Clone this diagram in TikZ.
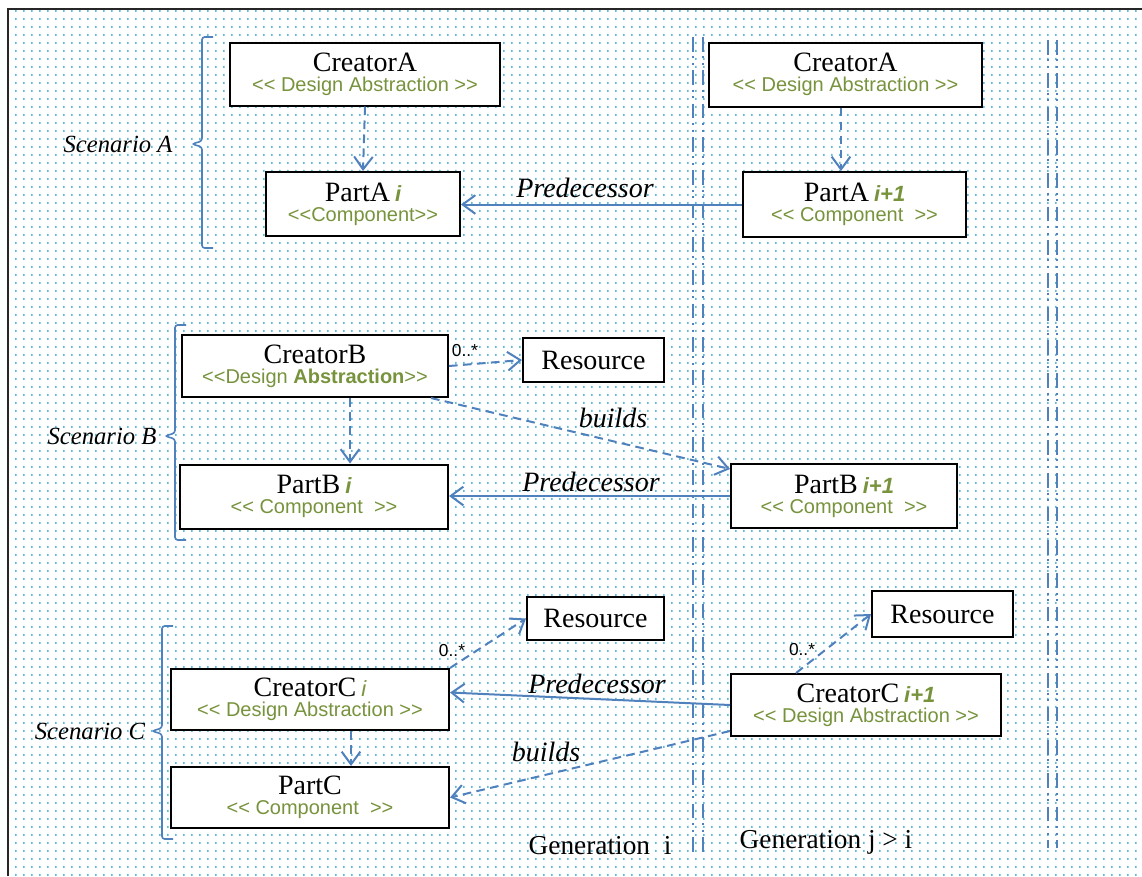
\documentclass[tikz,border=0pt]{standalone}
\usepackage{fontspec}
\setmainfont{Liberation Serif}
\setsansfont{Liberation Sans}
\usetikzlibrary{arrows.meta,patterns,calc}

\definecolor{linkblue}{HTML}{4F81BD}
\definecolor{stgreen}{HTML}{77933C}
\definecolor{dotblue}{HTML}{62BAD6}

% light dot grid used as the page background
\pgfdeclarepatternformonly{griddots}{\pgfqpoint{0pt}{0pt}}{\pgfqpoint{5.625pt}{5.625pt}}{\pgfqpoint{5.625pt}{5.625pt}}{%
  \pgfpathrectangle{\pgfqpoint{0pt}{0pt}}{\pgfqpoint{1.3pt}{1.6pt}}\pgfusepath{fill}}

\newcommand\dlt{<\kern0pt<}
\newcommand\dgt{>\kern0pt>}
\newcommand\ttl[1]{{\rmfamily\fontsize{21}{15}\selectfont #1}}
\newcommand\ster[1]{{\sffamily\fontsize{15}{15}\selectfont\color{stgreen}#1}}
\newcommand\gen[1]{{\sffamily\bfseries\itshape\fontsize{16.5}{15}\selectfont\color{stgreen}#1}}

\tikzset{
  box/.style={draw=black, line width=1.5pt, fill=white, align=center, inner sep=0pt,
              font=\fontsize{15}{15}\selectfont},
  sz/.style 2 args={minimum width=#1*0.75pt, minimum height=#2*0.75pt},
  flow/.style={draw=linkblue, line width=1.5pt, -{Straight Barb[length=9.5pt,width=14pt]}},
  dep/.style={flow, dash pattern=on 6.5pt off 4pt},
  lbl/.style={font=\rmfamily\itshape\fontsize{21}{21}\selectfont, inner sep=0pt},
  scen/.style={font=\rmfamily\itshape\fontsize{18.5}{18.5}\selectfont, inner sep=0pt},
  mult/.style={font=\sffamily\fontsize{13}{13}\selectfont, inner sep=0pt},
  gentext/.style={font=\rmfamily\fontsize{20.5}{20.5}\selectfont, inner sep=0pt},
  brace/.style={draw=linkblue, line width=1.2pt, rounded corners=2pt},
  divider/.style={draw=linkblue, line width=1.1pt,
                  dash pattern=on 11pt off 3.5pt on 1.5pt off 3.5pt on 1.5pt off 4pt},
}

\begin{document}
\begin{tikzpicture}[x=0.75pt,y=-0.75pt]
\useasboundingbox (0,0) rectangle (1142,876);

% background and frame
\fill[white] (0,0) rectangle (1142,876);
\fill[pattern=griddots, pattern color=dotblue] (9,10) rectangle (1142,876);
\draw[line width=1.5pt, black!85] (8,876) -- (8,9) -- (1142,9);

% generation dividers
\draw[divider] (693,37) -- (693,852);
\draw[divider] (703,37) -- (703,852);
\draw[divider] (1048,40) -- (1048,848);
\draw[divider] (1057,40) -- (1057,848);

% scenario braces
\draw[brace] (213,37) -- (202,37) -- (202,141) -- (192,144) -- (202,147) -- (202,248) -- (213,248);
\draw[brace] (186,325) -- (175,325) -- (175,433) -- (165,436) -- (175,439) -- (175,540) -- (186,540);
\draw[brace] (173,626) -- (162,626) -- (162,728) -- (152,731) -- (162,734) -- (162,839) -- (173,839);
\node[scen] (scA) at (118,144) {Scenario A};
\node[scen] (scB) at (102,436) {Scenario B};
\node[scen] (scC) at (90,731) {Scenario C};

% scenario A
\node[box, sz={270}{63}] (cA1) at (365,74) {\ttl{CreatorA}\\\ster{\dlt{} Design Abstraction \dgt}};
\node[box, sz={273}{64}] (cA2) at (845.5,74.5) {\ttl{CreatorA}\\\ster{\dlt{} Design Abstraction \dgt}};
\node[box, sz={194}{64}] (pA1) at (363,204) {\ttl{PartA} \gen{i}\\\ster{\dlt Component\dgt}};
\node[box, sz={223}{65}] (pA2) at (854.5,204.5) {\ttl{PartA} \gen{i+1}\\\ster{\dlt{} Component \ \dgt}};

% scenario B
\node[box, sz={266}{62}] (cB) at (315,366) {\ttl{CreatorB}\\\ster{\dlt Design \textbf{Abstraction}\dgt}};
\node[box, sz={141}{44}] (rB) at (593.5,360) {\ttl{Resource}};
\node[box, sz={268}{64}] (pB1) at (314,496.5) {\ttl{PartB} \gen{i}\\\ster{\dlt{} Component \ \dgt}};
\node[box, sz={226}{64}] (pB2) at (844,496) {\ttl{PartB} \gen{i+1}\\\ster{\dlt{} Component \ \dgt}};

% scenario C
\node[box, sz={137}{43}] (rC1) at (595.5,618.5) {\ttl{Resource}};
\node[box, sz={278}{61}] (cC1) at (310,699.5) {\ttl{CreatorC} {\sffamily\itshape\fontsize{16.5}{15}\selectfont\color{stgreen}i}\\\ster{\dlt{} Design Abstraction \dgt}};
\node[box, sz={278}{61}] (pC) at (310,797.5) {\ttl{PartC}\\\ster{\dlt{} Component \ \dgt}};
\node[box, sz={270}{62}] (cC2) at (866,705) {\ttl{CreatorC} \gen{i+1}\\\ster{\dlt{} Design Abstraction \dgt}};
\node[box, sz={141}{46}] (rC2) at (942.5,614) {\ttl{Resource}};

% connectors
\coordinate (xa) at (841,0);
\coordinate (xb) at (350,0);
\coordinate (xc) at (351,0);
\draw[dep] (cA1.south) -- (pA1.north);
\draw[dep] (cA2.south -| xa) -- (pA2.north -| xa);
\draw[flow] (pA2.west) -- (pA2.west -| pA1.east);
\node[lbl] (predA) at (585,188) {Predecessor};

\draw[dep] (cB.south -| xb) -- (pB1.north -| xb);
\draw[dep] (cB.east) -- (rB.west);
\node[mult] (mB) at (465,351) {0..*};
\draw[dep] ($(cB.south east)+(-18,0)$) -- ($(pB2.north west)+(0,6)$);
\node[lbl] (buildsB) at (613,418) {builds};
\draw[flow] (pB2.west) -- (pB2.west -| pB1.east);
\node[lbl] (predB) at (591,482) {Predecessor};

\draw[dep] (cC1.north east) -- (rC1.west);
\node[mult] (mC1) at (452,651) {0..*};
\draw[dep] (cC1.south -| xc) -- (pC.north -| xc);
\draw[flow] (cC2.west) -- ($(cC1.east)+(0,-7)$);
\node[lbl] (predC) at (597,684) {Predecessor};
\draw[dep] ($(cC2.south west)+(0,-6)$) -- (pC.east);
\node[lbl] (buildsC) at (546,752) {builds};
\draw[dep] ($(cC2.north west)+(66,0)$) -- (rC2.west);
\node[mult] (mC2) at (802,650) {0..*};

% generation captions
\node[gentext] (genI) at (600,846) {Generation\ \ i};
\node[gentext] (genJ) at (826,842) {Generation j > i};
\end{tikzpicture}
\end{document}
